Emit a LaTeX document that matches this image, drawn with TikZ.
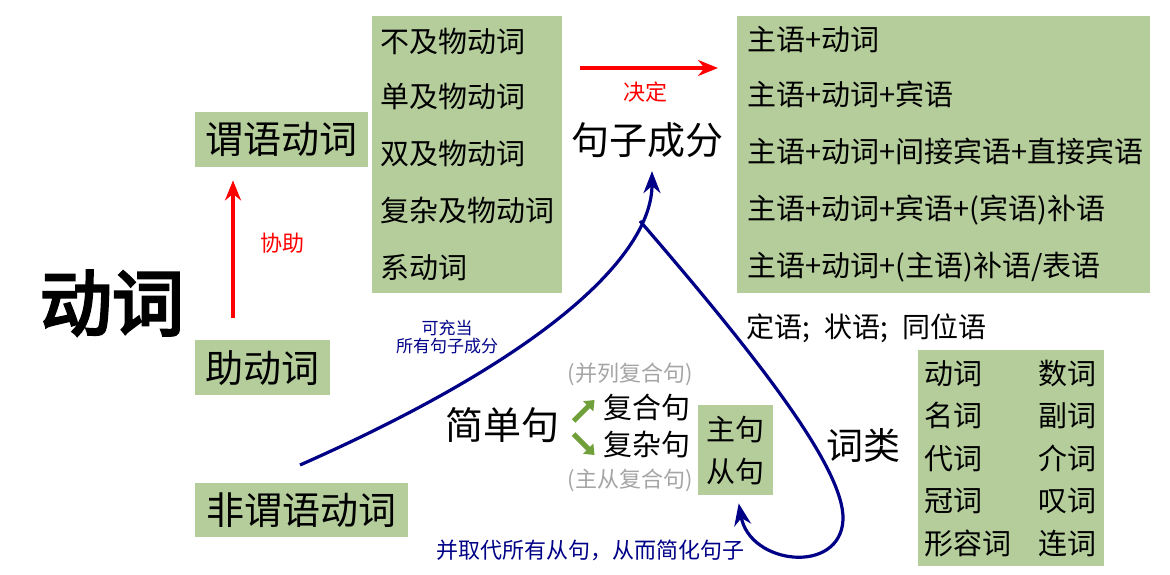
\documentclass[tikz,border=0pt]{standalone}
\usepackage{fontspec}
\usepackage{tikz}
\usetikzlibrary{arrows.meta,calc}
\setmainfont{Noto Sans CJK SC}
\newfontfamily\heavycjk[FakeBold=4]{Noto Sans CJK SC}
\definecolor{boxgreen}{RGB}{181,205,155}
\definecolor{curveblue}{RGB}{0,0,135}
\definecolor{arrowgreen}{RGB}{112,160,58}
\definecolor{notegray}{RGB}{165,165,165}
\newcommand{\fsz}[2]{\fontsize{#1}{#2}\selectfont}
\tikzset{
    greenbox/.style={fill=boxgreen,anchor=north west,inner ysep=0pt},
    redarrow/.style={draw=red,line width=3.2pt,-{Stealth[length=20pt,width=16pt]}},
    bluecurve/.style={draw=curveblue,line width=3.2pt,-{Stealth[length=22pt,width=17pt]}},
    greenarrow/.style={draw=arrowgreen,line width=5pt,-{Triangle[length=9pt,width=14pt]}},
    rednote/.style={text=red,font=\fsz{22}{24}},
    bluenote/.style={text=curveblue,align=center}
}

\begin{document}
\begin{tikzpicture}[x=1pt,y=-1pt]
        \useasboundingbox (0,0) rectangle (1170,574);
        \node (title) at (112,303) {\fsz{72}{80}\heavycjk 动词};
        \node[greenbox,minimum width=173pt,minimum height=55pt,font=\fsz{38}{44}] (wy) at (195,112) {谓语动词};
        \node[greenbox,minimum width=135pt,minimum height=55pt,font=\fsz{38}{44}] (zd) at (195,340) {助动词};
        \node[greenbox,minimum width=213pt,minimum height=54pt,font=\fsz{38}{44}] (fw) at (195,483) {非谓语动词};
        \node[greenbox,minimum height=277pt,inner xsep=8pt,text width=174pt,align=left,font=\fsz{29}{57}] (vt) at (372,16) {
            \raisebox{-2pt}{不及物动词}\\
            单及物动词\\
            双及物动词\\
            复杂及物动词\\
            系动词};
        \node[greenbox,minimum height=277pt,inner xsep=10pt,text width=393pt,align=left,font=\fsz{29}{57}] (pt) at (737,16) {
            \raisebox{-2pt}{主语+动词}\\
            主语+动词+宾语\\
            主语+动词+间接宾语+直接宾语\\
            主语+动词+宾语+(宾语)补语\\
            主语+动词+(主语)补语/表语};
        \node[greenbox,minimum height=216pt,inner xsep=6pt,text width=174pt,align=left,font=\fsz{29}{42.5}] (wl) at (918,350) {
            \makebox[114pt][l]{动词}数词\\
            \makebox[114pt][l]{名词}副词\\
            \makebox[114pt][l]{代词}介词\\
            \makebox[114pt][l]{冠词}叹词\\
            \makebox[114pt][l]{形容词}连词};
        \node[greenbox,minimum width=75pt,minimum height=90pt,align=center,font=\fsz{29}{42}] (zc) at (698,405) {主句\\从句};
        \node[font=\fsz{38}{44}] (cf) at (647,140) {句子成分};
        \node[font=\fsz{38}{44}] (jd) at (502,425) {简单句};
        \node[font=\fsz{37}{44}] (cl) at (863,445) {词类};
        \node[font=\fsz{29}{34}] (fh) at (647,408) {复合句};
        \node[font=\fsz{29}{34}] (fz) at (647,445) {复杂句};
        \node[text=notegray,font=\fsz{22}{26}] (bl) at (630,374) {(并列复合句)};
        \node[text=notegray,font=\fsz{22}{26}] (zcf) at (630,480) {(主从复合句)};
        \node[anchor=west,font=\fsz{28}{32}] (dz) at (743,328) {定语;\hspace{0.5em}状语;\hspace{0.5em}同位语};
        \node[rednote] (jdl) at (645,92) {决定};
        \node[rednote] (xz) at (282,243) {协助};
        \node[bluenote,font=\fsz{17}{18}] (kc) at (447,337) {可充当\\所有句子成分};
        \node[bluenote,font=\fsz{22}{26}] (qd) at (590,550) {并取代所有从句，从而简化句子};
        \draw[redarrow] ($(vt.north east)+(18,52)$) -- ($(pt.north west)+(-19,52)$);
        \draw[redarrow] ($(zd.north west)+(38,-22)$) -- ($(wy.south west)+(38,13)$);
        \draw[greenarrow] ($(jd.east)+(11,-4)$) -- ++(21,-21);
        \draw[greenarrow] ($(jd.east)+(11,9)$) -- ++(21,21);
        \coordinate (fwstart) at ($(fw.north west)+(105,-18)$);
        \coordinate (cftip) at ($(cf.south)+(5,10)$);
        \coordinate (fork) at (640,221);
        \draw[bluecurve] (fwstart) .. controls (560,350) and (652,250) .. (cftip);
        \draw[bluecurve] (fork) .. controls (760,360) and (845,470) .. (843,520)
            .. controls (840,575) and (750,565) .. ($(zc.south)+(3,8)$);
    \end{tikzpicture}
\end{document}
